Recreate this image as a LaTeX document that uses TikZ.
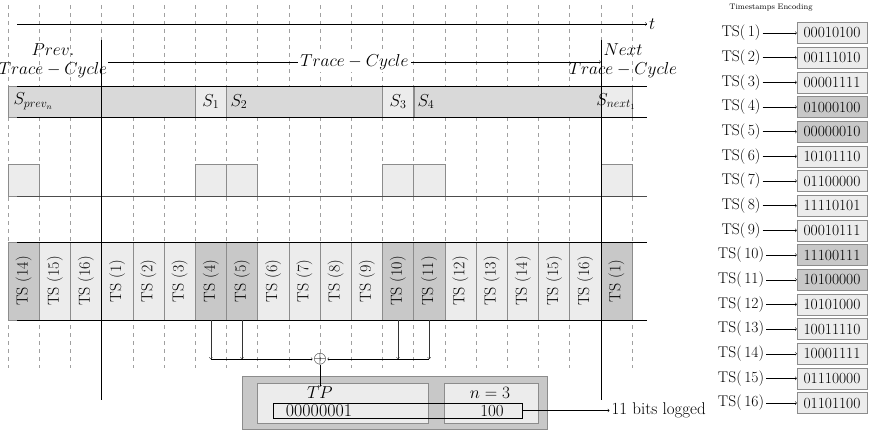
\documentclass[tikz,border=0pt]{standalone}
\usetikzlibrary{positioning}
\definecolor{cellgray}{HTML}{C8C8C8}
\definecolor{lightcell}{HTML}{ECECEC}
\definecolor{stategray}{HTML}{D9D9D9}
\definecolor{edgegray}{HTML}{8C8C8C}
\definecolor{gridgray}{HTML}{A0A0A0}
\begin{document}
\begin{tikzpicture}[x=1pt, y=-1pt,
  every node/.style={font=\fontsize{15}{17}\selectfont},
  gridline/.style={gridgray, dash pattern=on 4pt off 4pt},
  tscell/.style={draw=edgegray, fill=lightcell, minimum width=31.2pt, minimum height=78pt, inner sep=0pt, font=\fontsize{16}{18}\selectfont},
  sigbox/.style={draw=edgegray, fill=lightcell, minimum width=31.2pt, minimum height=32pt, inner sep=0pt},
  codebox/.style={draw=edgegray, fill=lightcell, minimum width=70pt, minimum height=21pt, inner sep=0pt, font=\fontsize{15.5}{17}\selectfont},
  slabel/.style={font=\fontsize{17}{19}\selectfont},
  cyclelabel/.style={align=center, inner sep=0pt, font=\fontsize{16}{19}\selectfont}
]
\useasboundingbox (0,0) rectangle (872,433);
\foreach \i in {0,...,20}
  \draw[gridline] ({8+31.2*\i},5) -- ({8+31.2*\i},368);
\coordinate (t0) at (17,24);
\coordinate (t1) at (647,24);
\draw[->] (t0) -- (t1) node[right, inner sep=2pt, slabel] {$t$};
\coordinate (c0) at (101.6,40);
\coordinate (c1) at (101.6,400);
\coordinate (n0) at (600.8,40);
\coordinate (n1) at (600.8,400);
\coordinate (arrL) at (108,62);
\coordinate (arrR) at (600.8,62);
\draw[->] (arrL) -- (arrR) node[midway, fill=white, inner sep=2pt, font=\fontsize{19}{21}\selectfont] (cycle) {$Trace-Cycle$};
\node[cyclelabel] (prev) at (53,61) {$Prev.$\\$Trace-Cycle$};
\node[cyclelabel] (next) at (623,61) {$Next$\\$Trace-Cycle$};
\node[draw=edgegray, fill=stategray, minimum width=624pt, minimum height=31pt, inner sep=0pt] (state) at (320,101.5) {};
\foreach \i/\nm in {6/s1, 12/s3, 19/snext}
  \node[draw=edgegray, fill=lightcell, minimum width=31.2pt, minimum height=31pt, inner sep=0pt] (\nm) at ({23.6+31.2*\i},101.5) {};
\draw[edgegray] (s1.north east) -- (s1.south east);
\draw[edgegray] (s3.north east) -- (s3.south east);
\node[slabel, anchor=west] (sprev) at (10,101.5) {$S_{prev_n}$};
\node[slabel] (lab1) at (s1) {$S_1$};
\node[slabel, anchor=west] (lab2) at (227,101.5) {$S_2$};
\node[slabel] (lab3) at (s3) {$S_3$};
\node[slabel, anchor=west] (lab4) at (414,101.5) {$S_4$};
\node[slabel] (labnext) at (616,101.5) {$S_{next_1}$};
\coordinate (sl0) at (17,86);
\coordinate (sl1) at (647,86);
\coordinate (sl2) at (17,117);
\coordinate (sl3) at (647,117);
\draw (sl0) -- (sl1);
\draw (sl2) -- (sl3);
\foreach \i in {0,6,7,12,13,19}
  \node[sigbox] (sig\i) at ({23.6+31.2*\i},180) {};
\coordinate (b0) at (17,196);
\coordinate (b1) at (647,196);
\draw[thick, black!70] (b0) -- (b1);
\foreach \i in {0,...,19} {
  \pgfmathtruncatemacro\lab{mod(\i+13,16)+1}
  \node[tscell] (ts\i) at ({23.6+31.2*\i},281) {\rotatebox{90}{TS (\lab)}};
}
\foreach \i in {0,6,7,12,13,19} {
  \pgfmathtruncatemacro\lab{mod(\i+13,16)+1}
  \node[tscell, fill=cellgray] (ts\i) at ({23.6+31.2*\i},281) {\rotatebox{90}{TS (\lab)}};
}
\coordinate (r0) at (17,242);
\coordinate (r1) at (647,242);
\coordinate (r2) at (17,320);
\coordinate (r3) at (647,320);
\draw (r0) -- (r1);
\draw (r2) -- (r3);
\draw (c0) -- (c1);
\draw (n0) -- (n1);
\node[inner sep=0.5pt, font=\fontsize{18}{20}\selectfont] (oplus) at (320,359) {$\oplus$};
\foreach \i in {6,7,12,13}
  \draw[->, black!80] (ts\i.south) -- (ts\i.south |- oplus);
\draw[->] (ts6.south |- oplus) -- (oplus.west);
\draw[->] (ts13.south |- oplus) -- (oplus.east);
\node[draw=edgegray, fill=cellgray, minimum width=305pt, minimum height=53pt, inner sep=0pt] (tpbox) at (394.5,402.5) {};
\node[draw=edgegray, fill=lightcell, minimum width=171pt, minimum height=40pt, inner sep=0pt] (tpfield) at (342.5,403) {};
\node[draw=edgegray, fill=lightcell, minimum width=94pt, minimum height=40pt, inner sep=0pt] (nfield) at (491,403) {};
\node[inner sep=0pt, font=\fontsize{17}{19}\selectfont] (tp) at (320,393) {$TP$};
\node[inner sep=0pt, font=\fontsize{17}{19}\selectfont] (nval) at (490,393) {$n=3$};
\node[draw, minimum width=249pt, minimum height=15pt, inner sep=0pt] (rec) at (397.5,410.5) {};
\node[inner sep=0pt, font=\fontsize{18}{20}\selectfont] (bits) at (319,411) {00000001};
\node[inner sep=0pt, font=\fontsize{17}{19}\selectfont] (nbits) at (492,411) {100};
\draw[->] (oplus.south) -- (tp.north);
\node[anchor=east, inner sep=2pt, font=\fontsize{17}{19}\selectfont] (logged) at (708,410.5) {11 bits logged};
\draw[->] (rec.east) -- (logged.west);
\node[font=\fontsize{8}{9}\selectfont] (enc) at (771,8) {Timestamps Encoding};
\foreach \k/\code/\shade in {1/00010100/lightcell, 2/00111010/lightcell, 3/00001111/lightcell,
    4/01000100/cellgray, 5/00000010/cellgray, 6/10101110/lightcell, 7/01100000/lightcell,
    8/11110101/lightcell, 9/00010111/lightcell, 10/11100111/cellgray, 11/10100000/cellgray,
    12/10101000/lightcell, 13/10011110/lightcell, 14/10001111/lightcell, 15/01110000/lightcell,
    16/01101100/lightcell} {
  \node[font=\fontsize{15.5}{17}\selectfont, inner sep=2pt] (tsl\k) at (741,{33+24.67*(\k-1)}) {TS(\,\k)};
  \node[codebox, fill=\shade] (code\k) at (832,{33+24.67*(\k-1)}) {\code};
  \draw[->] (tsl\k.east) -- (code\k.west);
}
\end{tikzpicture}
\end{document}
